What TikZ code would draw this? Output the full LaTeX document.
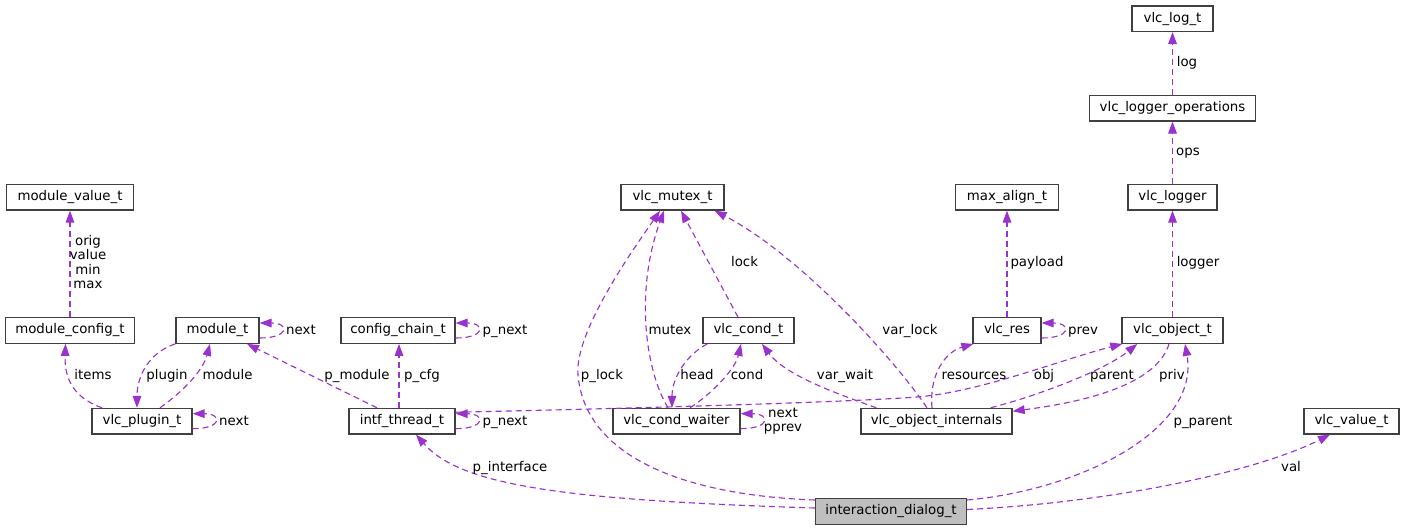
\documentclass[tikz,border=0pt]{standalone}
\usepackage{fontspec}
\setmainfont{DejaVu Sans}
\usetikzlibrary{arrows.meta,calc}
\definecolor{orchid}{HTML}{9A32CD}
\begin{document}
\begin{tikzpicture}[x=0.75pt, y=-0.75pt,
	cls/.style={draw=black!75, line width=1pt, fill=white, inner sep=0pt, minimum height=19.1pt, font=\fontsize{10}{12}\selectfont},
	root cls/.style={cls, fill=black!25},
	boxw/.style={minimum width=#1*0.75pt},
	use/.style={draw=orchid, line width=0.85pt, dash pattern=on 4.5pt off 3pt, -{Triangle[length=9pt,width=6.5pt]}},
	lbl/.style={inner sep=0pt, anchor=base, font=\fontsize{10}{12}\selectfont},
	lbls/.style={inner sep=0pt, align=center, font=\fontsize{10}{10.9}\selectfont}]
	\useasboundingbox (0,0) rectangle (1405,531);
	\node[cls, boxw=127] (mval) at (70,197.3) {module\_value\_t};
	\node[cls, boxw=129] (mconf) at (70,330.5) {module\_config\_t};
	\node[cls, boxw=83] (mod) at (217.5,330.5) {module\_t};
	\node[cls, boxw=114] (cchain) at (398,330.5) {config\_chain\_t};
	\node[cls, boxw=100] (plugin) at (142,421.2) {vlc\_plugin\_t};
	\node[cls, boxw=106] (intf) at (402,421.2) {intf\_thread\_t};
	\node[cls, boxw=103] (mutex) at (672.5,197.3) {vlc\_mutex\_t};
	\node[cls, boxw=91] (cond) at (748.5,330.5) {vlc\_cond\_t};
	\node[cls, boxw=127] (waiter) at (676.5,421.2) {vlc\_cond\_waiter};
	\node[root cls, boxw=151] (dialog) at (891,511.5) {interaction\_dialog\_t};
	\node[cls, boxw=81] (log) at (1172.5,18.7) {vlc\_log\_t};
	\node[cls, boxw=166] (logops) at (1172.5,108.2) {vlc\_logger\_operations};
	\node[cls, boxw=103] (maxal) at (1007,197.3) {max\_align\_t};
	\node[cls, boxw=89] (logger) at (1172.5,197.3) {vlc\_logger};
	\node[cls, boxw=68] (res) at (1007,330.5) {vlc\_res};
	\node[cls, boxw=101] (obj) at (1172.5,330.5) {vlc\_object\_t};
	\node[cls, boxw=151] (objint) at (936.5,421.2) {vlc\_object\_internals};
	\node[cls, boxw=95] (value) at (1351.5,421.2) {vlc\_value\_t};

	\foreach \n in {mod, plugin, cchain, intf, waiter, res}{
	  \draw[use] ($(\n.east)+(0,7.5)$) .. controls +(30,0) and +(30,0) .. ($(\n.east)+(0,-7.5)$);
	}
	\draw[use] (mconf) -- (mval);
	\draw[use] ($(plugin.north)+(-40,0)$) .. controls (80,400) and (64,385) .. ($(mconf.south)+(-4.5,0)$);
	\draw[use] (mod.south west) .. controls (150,352) and (137,375) .. ($(plugin.north)+(-5,0)$);
	\draw[use] ($(plugin.north)+(18,0)$) .. controls (185,390) and (203,370) .. ($(mod.south)+(-7.5,0)$);
	\draw[use] ($(intf.north)+(-25,0)$) -- ($(mod.south)+(29.5,0)$);
	\draw[use] ($(intf.north)+(-3,0)$) -- ($(cchain.south)+(1,0)$);
	\draw[use] ($(dialog.west)+(0,-3.5)$) .. controls (560,500) and (460,485) .. ($(intf.south)+(14,0)$);
	\draw[use] ($(dialog.west)+(0,-11.5)$) .. controls (680,495) and (585,455) .. (578,375)
	  .. controls (574,330) and (640,240) .. ($(mutex.south)+(-12.5,0)$);
	\draw[use] ($(waiter.north)+(-8.5,0)$) .. controls (645,370) and (635,290) .. ($(mutex.south)+(-8.5,0)$);
	\draw[use] ($(cond.north)+(-10.5,0)$) -- ($(mutex.south)+(8.5,0)$);
	\draw[use] ($(objint.north)+(-9.5,0)$) .. controls (895,360) and (800,255) .. ($(mutex.south east)+(-10,0)$);
	\draw[use] ($(cond.south west)+(5,0)$) .. controls (686,355) and (672,378) .. ($(waiter.north)+(-4.5,0)$);
	\draw[use] ($(waiter.north)+(13.5,0)$) .. controls (710,395) and (735,370) .. ($(cond.south)+(-7.5,0)$);
	\draw[use] ($(objint.north west)+(16,0)$) .. controls (835,393) and (785,375) .. ($(cond.south)+(13.5,0)$);
	\draw[use] (res) -- (maxal);
	\draw[use] ($(objint.north)+(-4.5,0)$) .. controls (929,375) and (945,352) .. ($(res.south west)+(1,0)$);
	\draw[use] (obj) -- (logger);
	\draw[use] (logger) -- (logops);
	\draw[use] (logops) -- (log);
	\draw[use] ($(intf.east)+(0,-9)$) .. controls (650,408) and (850,402) .. (917,397)
	  .. controls (980,392) and (1060,360) .. ($(obj.south west)+(1,0)$);
	\draw[use] ($(objint.north east)+(-22,0)$) .. controls (1040,395) and (1105,370) .. ($(obj.south west)+(16,0)$);
	\draw[use] ($(obj.south)+(-3.5,0)$) .. controls (1158,380) and (1100,400) .. ($(objint.east)+(0,-10)$);
	\draw[use] ($(dialog.east)+(0,-11.5)$) .. controls (1080,490) and (1200,430) .. ($(obj.south)+(12.5,0)$);
	\draw[use] ($(dialog.east)+(0,-2)$) .. controls (1120,502) and (1260,470) .. ($(value.south)+(-21.5,0)$);

	\node[lbls] (l-orig) at (88,262) {orig\\value\\min\\max};
	\node[lbl] (l-items) at (93,379) {items};
	\node[lbl] (l-plugin) at (167,379) {plugin};
	\node[lbl] (l-module) at (227.5,379) {module};
	\node[lbl] (l-modnext) at (301,334.5) {next};
	\node[lbl] (l-plugnext) at (234,425.5) {next};
	\node[lbl] (l-pmodule) at (357,379) {p\_module};
	\node[lbl] (l-pcfg) at (422,379) {p\_cfg};
	\node[lbl] (l-cnext) at (505,334.5) {p\_next};
	\node[lbl] (l-inext) at (505,425.5) {p\_next};
	\node[lbl] (l-pintf) at (510,471) {p\_interface};
	\node[lbl] (l-plock) at (602,379) {p\_lock};
	\node[lbl] (l-mutex) at (670,334.5) {mutex};
	\node[lbl] (l-lock) at (744.5,266.5) {lock};
	\node[lbl] (l-varlock) at (910,334.5) {var\_lock};
	\node[lbl] (l-head) at (697,379) {head};
	\node[lbl] (l-cond) at (747,379) {cond};
	\node[lbls] (l-wnext) at (783,421) {next\\pprev};
	\node[lbl] (l-varwait) at (845,379) {var\_wait};
	\node[lbl] (l-payload) at (1037,266.5) {payload};
	\node[lbl] (l-prev) at (1083,334.5) {prev};
	\node[lbl] (l-res) at (974,379) {resources};
	\node[lbl] (l-logger) at (1198,266.5) {logger};
	\node[lbl] (l-ops) at (1188,156) {ops};
	\node[lbl] (l-log) at (1187,66.5) {log};
	\node[lbl] (l-obj) at (1044,379) {obj};
	\node[lbl] (l-parent) at (1112,379) {parent};
	\node[lbl] (l-priv) at (1172,379) {priv};
	\node[lbl] (l-pparent) at (1203,425.5) {p\_parent};
	\node[lbl] (l-val) at (1291,471) {val};
\end{tikzpicture}
\end{document}
